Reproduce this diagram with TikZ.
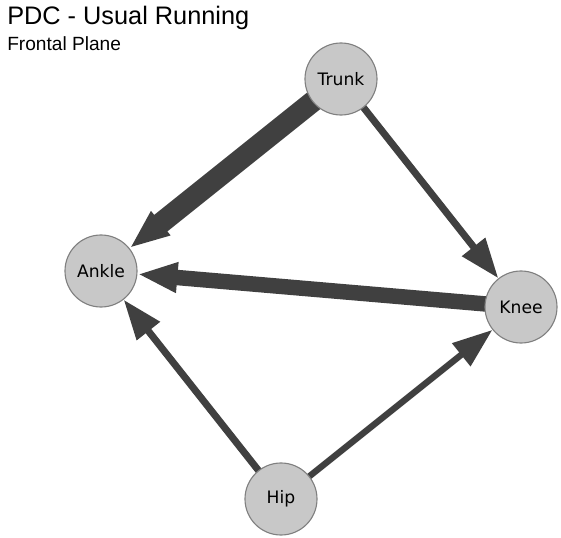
\documentclass[tikz,border=0pt]{standalone}
\usepackage{fontspec}
\setmainfont{Liberation Sans}
\newfontfamily\nodefont{DejaVu Sans}
\usetikzlibrary{arrows.meta,backgrounds}
\definecolor{cEdge}{HTML}{404040}
\definecolor{cNode}{HTML}{C8C8C8}
\definecolor{cRim}{HTML}{808080}

\begin{document}
\begin{tikzpicture}[x=0.025cm,y=-0.025cm]
  \tikzset{
    joint/.style={circle, draw=cRim, thick, fill=cNode, minimum size=1.8cm,
      inner sep=0pt, font=\nodefont\fontsize{12.2}{14}\selectfont},
    pdc/.style={draw=cEdge, line width=#1,
      -{Triangle[length=1cm, width=0.7cm]}},
    pdc/.default=5pt,
    ttl/.style={anchor=base west, inner sep=0pt},
  }
  \useasboundingbox (0,0) rectangle (561,538);
  % title
  \node[ttl, font=\fontsize{18}{20}\selectfont] (title) at (7,25) {PDC - Usual Running};
  \node[ttl, font=\fontsize{13.6}{15}\selectfont] (plane) at (7,51) {Frontal Plane};
  % joints
  \node[joint] (trunk) at (341,79) {Trunk};
  \node[joint] (ankle) at (101,271) {Ankle};
  \node[joint] (knee) at (521,307) {Knee};
  \node[joint] (hip) at (281,499) {Hip};
  % directed coherence
  \begin{scope}[on background layer]
    \draw[pdc=15pt] (trunk.center) -- (ankle);
    \draw[pdc] (trunk.center) -- (knee);
    \draw[pdc=11pt] (knee.center) -- (ankle);
    \draw[pdc] (hip.center) -- (ankle);
    \draw[pdc=4.5pt] (hip.center) -- (knee);
  \end{scope}
\end{tikzpicture}
\end{document}
